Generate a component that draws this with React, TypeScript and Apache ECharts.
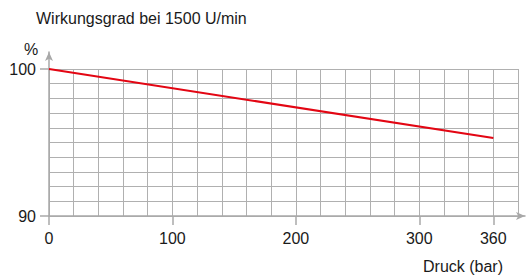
import React, { useEffect, useRef } from "react";
import * as echarts from "echarts";

const pressureBar = [0, 360];
const efficiencyPct = [100, 95.3];
const xTickValues = [0, 100, 200, 300, 360];
const yTickValues = [90, 100];
const titleText = "Wirkungsgrad bei 1500 U/min";
const yUnit = "%";
const xName = "Druck (bar)";

const FONT = "'Liberation Sans', Arial, Helvetica, sans-serif";
const GRID_COLOR = "#b0b0b0";
const AXIS_COLOR = "#a8a8a8";
const TEXT_COLOR = "#1a1a1a";

export default function App() {
  const ref = useRef<HTMLDivElement>(null);
  useEffect(() => {
    if (!ref.current) return;
    const chart = echarts.init(ref.current, undefined, { renderer: "svg" });
    const seriesData = pressureBar.map((p, i) => [p, efficiencyPct[i]]);
    chart.setOption({
      animation: false,
      backgroundColor: "#ffffff",
      textStyle: { fontFamily: FONT },
      title: [
        {
          text: titleText,
          left: 36,
          top: 10,
          padding: 0,
          textStyle: { fontSize: 16, fontWeight: "normal", color: TEXT_COLOR, fontFamily: FONT },
        },
        {
          text: yUnit,
          left: 24,
          top: 41,
          padding: 0,
          textStyle: { fontSize: 16, fontWeight: "normal", color: TEXT_COLOR, fontFamily: FONT },
        },
        {
          text: xName,
          right: 23,
          top: 258,
          padding: 0,
          textStyle: { fontSize: 16, fontWeight: "normal", color: TEXT_COLOR, fontFamily: FONT },
        },
      ],
      grid: [
        { left: 49, top: 69, width: 469, height: 147, containLabel: false },
        { left: 49, top: 52, width: 476, height: 164, containLabel: false },
      ],
      xAxis: [
        {
          type: "value",
          gridIndex: 0,
          position: "bottom",
          min: 0,
          max: 380,
          interval: 20,
          axisLine: { show: false },
          axisTick: { show: false },
          axisLabel: { show: false },
          splitLine: { show: true, lineStyle: { color: GRID_COLOR, width: 1 } },
        },
        {
          type: "value",
          gridIndex: 0,
          position: "bottom",
          min: 0,
          max: 380,
          axisLine: { show: false },
          axisTick: {
            show: true,
            customValues: xTickValues,
            length: 9,
            inside: false,
            lineStyle: { color: AXIS_COLOR, width: 1.5 },
          },
          axisLabel: {
            show: true,
            customValues: xTickValues,
            margin: 14,
            fontSize: 16,
            color: TEXT_COLOR,
            fontFamily: FONT,
          },
          splitLine: { show: false },
        },
        {
          type: "value",
          gridIndex: 1,
          position: "bottom",
          min: 0,
          max: 1,
          axisLine: {
            show: true,
            onZero: false,
            symbol: ["none", "arrow"],
            symbolSize: [6, 9],
            lineStyle: { color: AXIS_COLOR, width: 1.5 },
          },
          axisTick: { show: false },
          axisLabel: { show: false },
          splitLine: { show: false },
        },
      ],
      yAxis: [
        {
          type: "value",
          gridIndex: 0,
          position: "left",
          min: 90,
          max: 100,
          interval: 1,
          axisLine: { show: false },
          axisTick: { show: false },
          axisLabel: { show: false },
          splitLine: { show: true, lineStyle: { color: GRID_COLOR, width: 1 } },
        },
        {
          type: "value",
          gridIndex: 0,
          position: "left",
          min: 90,
          max: 100,
          axisLine: { show: false },
          axisTick: {
            show: true,
            customValues: yTickValues,
            length: 9,
            lineStyle: { color: AXIS_COLOR, width: 1.5 },
          },
          axisLabel: {
            show: true,
            customValues: yTickValues,
            margin: 13,
            fontSize: 16,
            color: TEXT_COLOR,
            fontFamily: FONT,
          },
          splitLine: { show: false },
        },
        {
          type: "value",
          gridIndex: 1,
          position: "left",
          min: 0,
          max: 1,
          axisLine: {
            show: true,
            onZero: false,
            symbol: ["none", "arrow"],
            symbolSize: [6, 9],
            lineStyle: { color: AXIS_COLOR, width: 1.5 },
          },
          axisTick: { show: false },
          axisLabel: { show: false },
          splitLine: { show: false },
        },
      ],
      series: [
        {
          type: "line",
          xAxisIndex: 0,
          yAxisIndex: 0,
          data: seriesData,
          symbol: "none",
          lineStyle: { color: "#e30613", width: 2 },
          z: 5,
        },
      ],
    });
    return () => chart.dispose();
  }, []);
  return (
    <div
      ref={ref}
      style={{ position: "fixed", left: 0, top: 0, width: 526, height: 277 }}
    />
  );
}
